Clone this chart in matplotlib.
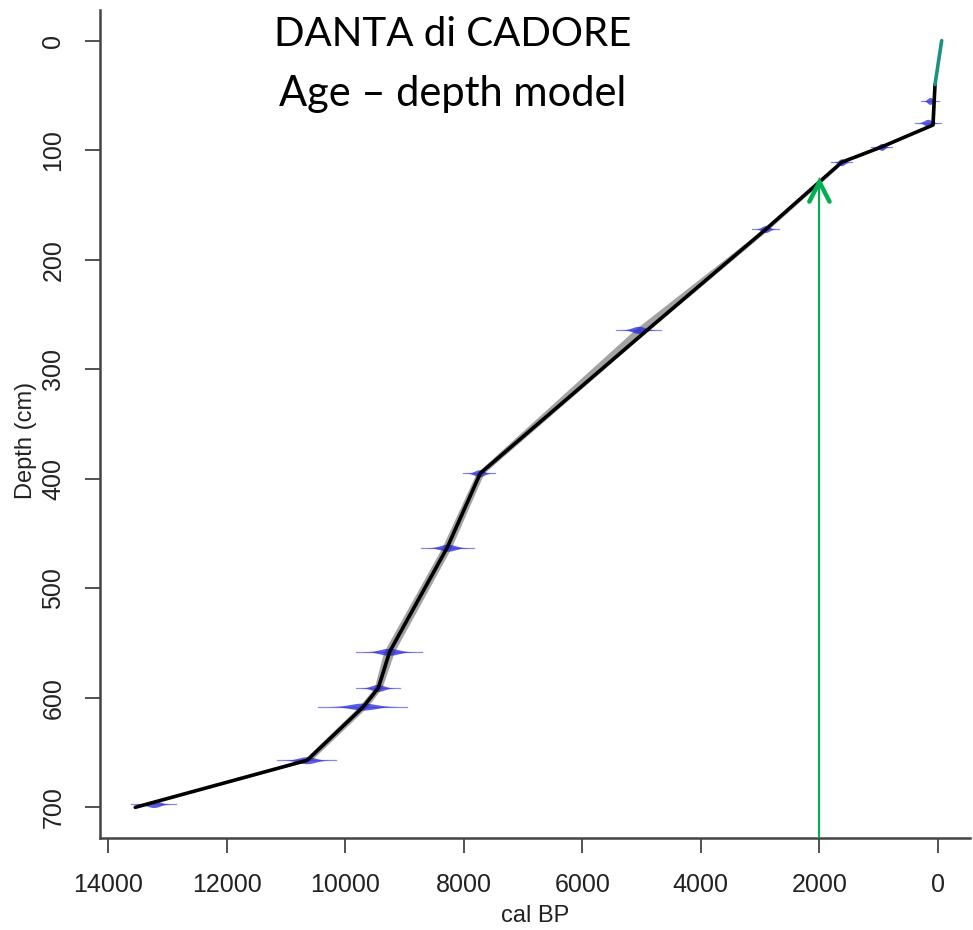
import numpy as np
import matplotlib
matplotlib.use("Agg")
import matplotlib.pyplot as plt

# age-depth model (cal BP vs depth in cm)
model_depths = [40, 77, 97, 111, 172, 264, 395, 463, 558, 591, 608, 657, 700]
model_ages = [50, 85, 950, 1625, 2900, 4900, 7720, 8280, 9250, 9440, 9690, 10640, 13540]
model_min = [40, 60, 910, 1590, 2850, 4870, 7660, 8210, 9170, 9380, 9620, 10570, 13510]
model_max = [60, 110, 990, 1660, 2950, 5120, 7790, 8370, 9350, 9510, 9770, 10710, 13570]

# uppermost section of the core
top_depths = [0, 40]
top_ages = [-62, 50]

# calibrated dates
date_depths = [55, 75, 97, 111, 172, 264, 395, 463, 558, 591, 608, 657, 697]
date_ages = [135, 170, 950, 1625, 2910, 5050, 7740, 8270, 9260, 9450, 9700, 10650, 13230]
date_sds = [60, 90, 70, 70, 90, 150, 110, 180, 220, 150, 300, 200, 150]

arrow_age = 2000
x_ticks = [14000, 12000, 10000, 8000, 6000, 4000, 2000, 0]
y_ticks = [0, 100, 200, 300, 400, 500, 600, 700]

tick_font = ['Liberation Sans', 'DejaVu Sans']

fig = plt.figure(figsize=(9.73, 9.30), dpi=100)
ax = fig.add_axes([100 / 973, 1 - 838 / 930, 870 / 973, 828 / 930])

# model envelope and best fit
ax.fill_betweenx(model_depths, model_min, model_max, color='#a3a3a3', lw=0, zorder=2)
ax.plot(model_ages, model_depths, color='black', lw=2.6, zorder=4, solid_capstyle='round')
ax.plot(top_ages, top_depths, color='#1f8f80', lw=2.6, zorder=5, solid_capstyle='round')

# calibrated date distributions
for d, a, s in zip(date_depths, date_ages, date_sds):
    xs = np.linspace(a - 2 * s, a + 2 * s, 120)
    h = 3.2 * np.exp(-0.5 * ((xs - a) / (0.7 * s)) ** 2)
    ax.fill_between(xs, d - h, d + h, color='#1a1ad8', alpha=0.7, lw=0, zorder=3)
    ax.plot([a - 2.5 * s, a + 2.5 * s], [d, d], color='#3a3ae0', lw=0.9, alpha=0.6, zorder=3)

ax.set_xlim(14135, -540)
ax.set_ylim(728, -28)

# arrow pointing to 2000 cal BP on the model
green = '#00b050'
tip = np.interp(arrow_age, model_ages, model_depths)
ax.plot([arrow_age, arrow_age], [728, tip], color=green, lw=1.5, zorder=6)
ax.plot([arrow_age + 170, arrow_age, arrow_age - 170], [tip + 18, tip, tip + 18],
        color=green, lw=3.2, zorder=6, solid_capstyle='round', solid_joinstyle='miter')

ax.set_xticks(x_ticks)
ax.set_xticklabels([str(t) for t in x_ticks], family=tick_font, fontsize=18, color='#222222')
ax.set_yticks(y_ticks)
ax.set_yticklabels([str(t) for t in y_ticks], family=tick_font, fontsize=18, color='#222222',
                   rotation=90, va='center')
ax.tick_params(axis='x', length=11, width=1.2, color='#333333', pad=14)
ax.tick_params(axis='y', length=11, width=1.2, color='#333333', pad=14)

for side in ['top', 'right']:
    ax.spines[side].set_visible(False)
for side in ['left', 'bottom']:
    ax.spines[side].set_linewidth(1.8)
    ax.spines[side].set_color('#444444')

ax.set_xlabel('cal BP', family=tick_font, fontsize=17, color='#222222', labelpad=0)
ax.set_ylabel('Depth (cm)', family=tick_font, fontsize=17, color='#222222', labelpad=0)
ax.xaxis.set_label_coords(0.5, -0.081)
ax.yaxis.set_label_coords(-0.072, 0.48)

fig.text(453 / 973, 1 - 46 / 930, 'DANTA di CADORE', family=['Lato', 'DejaVu Sans'],
         fontsize=29, ha='center', va='baseline')
fig.text(453 / 973, 1 - 106 / 930, 'Age \u2013 depth model', family=['Lato', 'DejaVu Sans'],
         fontsize=30, ha='center', va='baseline')

fig.savefig('out.png', dpi=100)
